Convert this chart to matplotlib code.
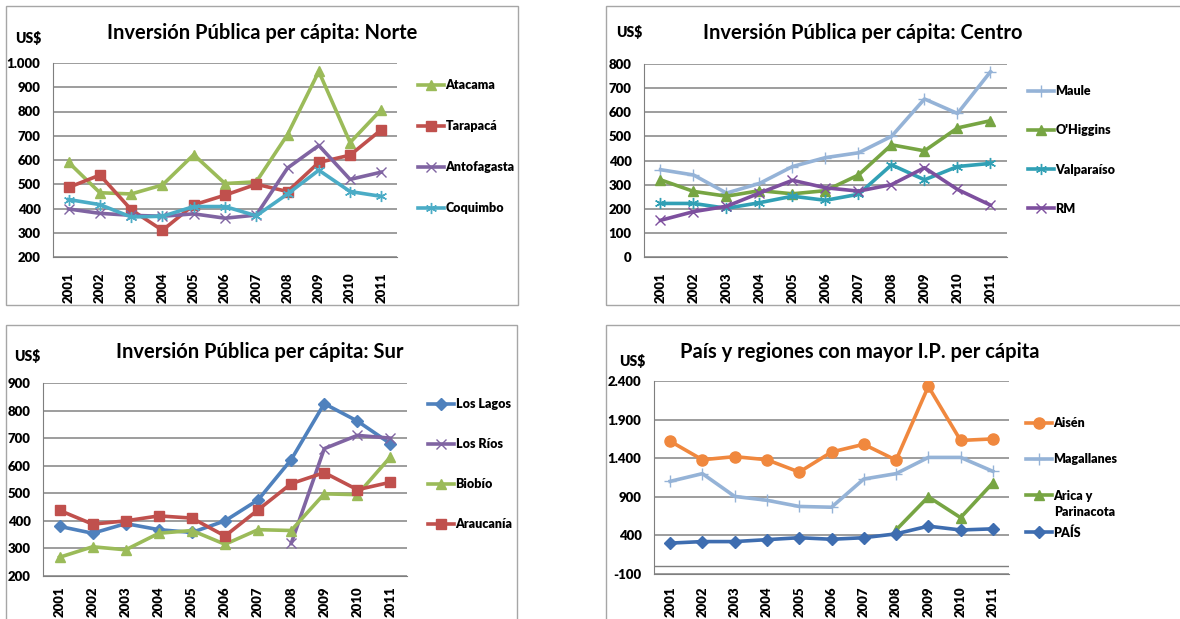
import numpy as np
import matplotlib
matplotlib.use("Agg")
import matplotlib.pyplot as plt
from matplotlib.patches import Rectangle
from matplotlib.ticker import FuncFormatter

plt.rcParams['font.family'] = ['Lato', 'DejaVu Sans']

years = ['2001', '2002', '2003', '2004', '2005', '2006', '2007', '2008', '2009', '2010', '2011']
nan = np.nan

# Norte
atacama = [590, 465, 460, 497, 622, 503, 510, 705, 965, 672, 808]
tarapaca = [487, 538, 395, 310, 415, 455, 500, 470, 590, 620, 725]
antofagasta = [398, 380, 372, 368, 378, 360, 373, 567, 660, 520, 550]
coquimbo = [437, 416, 365, 368, 408, 408, 370, 460, 558, 470, 450]

# Centro
maule = [362, 340, 265, 305, 375, 412, 432, 500, 655, 595, 768]
ohiggins = [320, 272, 252, 275, 262, 275, 340, 465, 440, 535, 565]
valparaiso = [222, 222, 202, 225, 252, 235, 260, 382, 320, 375, 388]
rm = [152, 188, 210, 265, 318, 287, 273, 300, 370, 280, 215]

# Sur
los_lagos = [380, 355, 390, 368, 358, 400, 476, 622, 825, 762, 680]
los_rios = [nan, nan, nan, nan, nan, nan, nan, 318, 662, 710, 700]
biobio = [268, 306, 295, 355, 365, 315, 368, 365, 498, 495, 632]
araucania = [438, 388, 400, 418, 410, 345, 440, 535, 575, 513, 540]

# Pais y regiones con mayor I.P.
aisen = [1620, 1380, 1420, 1380, 1220, 1480, 1580, 1375, 2330, 1630, 1650]
magallanes = [1100, 1200, 905, 855, 775, 765, 1130, 1200, 1410, 1410, 1230]
arica = [nan, nan, nan, nan, nan, nan, nan, 470, 900, 630, 1080]
pais = [300, 320, 320, 345, 370, 350, 370, 420, 520, 470, 485]

W, H = 1180, 619
fig = plt.figure(figsize=(W / 100, H / 100), dpi=100)

ASTER = (6, 2, 0)
WEIGHT = 'heavy'


def fmt(v, pos):
    return f"{int(round(v)):,}".replace(",", ".")


def px_axes(l, t, r, b):
    return fig.add_axes([l / W, 1 - b / H, (r - l) / W, (b - t) / H])


def panel_box(l, t, r, b):
    fig.patches.append(Rectangle((l / W, 1 - b / H), (r - l) / W, (b - t) / H,
                                 transform=fig.transFigure, fill=False,
                                 edgecolor='#A6A6A6', linewidth=1.0))


def draw_panel(box, title, title_xy, us_xy, series, ylim, yticks, leg_xy, spacing,
               zero_line=False, xpad=11):
    l, t, r, b = box
    ax = px_axes(l, t, r, b)
    x = np.arange(len(years))
    for vals, label, color, marker, ms in series:
        ax.plot(x, vals, color=color, linewidth=2.6, marker=marker, markersize=ms,
                markeredgecolor=color, markerfacecolor=color, markeredgewidth=1.0,
                label=label)
    ax.set_xlim(-0.5, len(years) - 0.5)
    ax.set_ylim(*ylim)
    ax.set_yticks(yticks)
    ax.yaxis.set_major_formatter(FuncFormatter(fmt))
    ax.set_xticks(x)
    ax.set_xticklabels(years, rotation=90, fontsize=9.5, fontweight=WEIGHT)
    for lab in ax.get_yticklabels():
        lab.set_fontsize(9.5)
        lab.set_fontweight(WEIGHT)
    ax.grid(axis='y', color='#8C8C8C', linewidth=1.2)
    ax.set_axisbelow(True)
    ax.spines['top'].set_visible(False)
    ax.spines['right'].set_visible(False)
    ax.spines['left'].set_color('#7F7F7F')
    ax.spines['bottom'].set_color('#7F7F7F')
    ax.tick_params(axis='x', length=0, pad=xpad)
    ax.tick_params(axis='y', length=0, pad=9)
    if zero_line:
        ax.axhline(0, color='#7F7F7F', linewidth=1.0, zorder=1)
    fig.text(title_xy[0] / W, 1 - title_xy[1] / H, title, ha='center', va='center',
             fontsize=14.5, fontweight='bold')
    fig.text(us_xy[0] / W, 1 - us_xy[1] / H, 'US$', ha='center', va='center',
             fontsize=10, fontweight=WEIGHT)
    leg = ax.legend(loc='upper left', bbox_to_anchor=(leg_xy[0] / W, 1 - leg_xy[1] / H),
                    bbox_transform=fig.transFigure, frameon=False, fontsize=9,
                    labelspacing=spacing, handlelength=2.1, handletextpad=0.1,
                    borderpad=0, borderaxespad=0)
    for txt in leg.get_texts():
        txt.set_fontweight(WEIGHT)
    return ax


panel_box(6, 6, 518, 305)
panel_box(606, 6, 1185, 305)
panel_box(6, 325, 517, 625)
panel_box(606, 325, 1185, 625)

draw_panel((53, 63, 397, 257), 'Inversión Pública per cápita: Norte', (262, 33), (28, 38),
           [(atacama, 'Atacama', '#9BBB59', '^', 7),
            (tarapaca, 'Tarapacá', '#C0504D', 's', 7),
            (antofagasta, 'Antofagasta', '#8064A2', 'x', 7),
            (coquimbo, 'Coquimbo', '#4BACC6', ASTER, 8)],
           (200, 1000), range(200, 1001, 100), (418, 79), 2.33)

draw_panel((644, 64, 1007, 257), 'Inversión Pública per cápita: Centro', (863, 33), (629, 32),
           [(maule, 'Maule', '#95B3D7', '+', 9),
            (ohiggins, "O'Higgins", '#77A543', '^', 7),
            (valparaiso, 'Valparaíso', '#31A0B5', ASTER, 8),
            (rm, 'RM', '#7D4F9E', 'x', 7)],
           (0, 800), range(0, 801, 100), (1028, 85), 2.18)

draw_panel((43, 383, 407, 576), 'Inversión Pública per cápita: Sur', (260, 352), (27, 356),
           [(los_lagos, 'Los Lagos', '#4F81BD', 'D', 6),
            (los_rios, 'Los Ríos', '#8064A2', 'x', 7),
            (biobio, 'Biobío', '#9BBB59', '^', 7),
            (araucania, 'Araucanía', '#C0504D', 's', 7)],
           (200, 900), range(200, 901, 100), (428, 398), 2.25, xpad=7.5)

draw_panel((654, 381, 1009, 574), 'País y regiones con mayor I.P. per cápita', (860, 352), (632, 361),
           [(aisen, 'Aisén', '#F0883E', 'o', 8),
            (magallanes, 'Magallanes', '#95B3D7', '+', 9),
            (arica, 'Arica y', '#77A543', '^', 7),
            (pais, 'PAÍS', '#3E6DB0', 'D', 6)],
           (-100, 2400), range(-100, 2401, 500), (1026, 417), 1.95, zero_line=True, xpad=9)
# second line of the "Arica y Parinacota" legend label
fig.text(1054 / W, 1 - 512 / H, 'Parinacota', ha='left', va='center',
         fontsize=9, fontweight=WEIGHT)

fig.savefig('out.png', dpi=100)
